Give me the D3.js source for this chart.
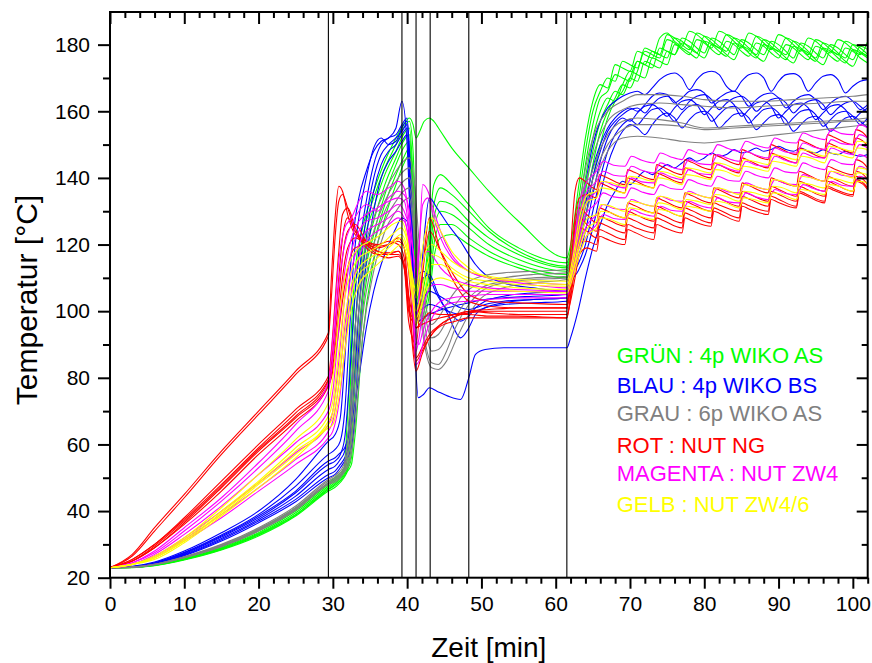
<!DOCTYPE html>
<html><head><meta charset="utf-8">
<script src="https://cdn.jsdelivr.net/npm/d3@7"></script>
<style>body{margin:0;background:#fff}svg{display:block}text{font-family:"Liberation Sans",Arial,sans-serif}</style>
</head><body><svg id="c" width="872" height="663"></svg>
<script>
// ---------- DATA ----------
const P1_T = [0,3,6,10,15,20,25,29.4];
const EVENTS = [29.4,39.3,41.2,43.1,48.3,61.5];
const X_TICKS = [0,10,20,30,40,50,60,70,80,90,100];
const Y_TICKS = [20,40,60,80,100,120,140,160,180];
const LEGEND_LABELS = ["GRÜN : 4p WIKO AS","BLAU : 4p WIKO BS","GRAU : 6p WIKO AS","ROT : NUT NG","MAGENTA : NUT ZW4","GELB : NUT ZW4/6"];
const LEGEND_COLORS = ["#00ff00","#0000ff","#808080","#ff0000","#ff00ff","#ffff00"];

// GREEN
const greenT = P1_T.concat([30.5,31.5,32,32.5,33,34,35.5,37,38.5,39.5,40.3,40.8,41.2,41.7,42.3,43,43.6,44.5,46,48.3,51,55,61.5],
  [62,63,64,65,66,67,68,69,70,71,72,73,74,75,76,77,78,79,80,81,82,83,84,85,86,87,88,89,90,91,92,93,94,95,96,97,98,99,100,101,102]);
const greenLines = [
 [23,23.2,24,26,29.5,34.5,41,48.5, 50.5,53,70,95,112,125,136,145,152,156,158,156,152,154,157,158,157,154,149,143,136,127,116,
  120,136,152,163,168,167,174,173,172,178, 177,176,182,183.5,181,179.5,184,183,181,179, 184,183,181,179,183.5,182.5,180.5,178.5,183,182, 180,178,182,181,179,177.5,181.5,180.5,178.5,177, 181],
 [23,23.2,24,26,29.3,34,40.5,48, 50,52.5,60,85,105,122,134,143,150,155,157,148,125,108,110,125,138,141,138,132,125,119,114.5,
  118,132,148,160,166,170,169,175,174,173, 179,178,177,183,182,180,178.5,183.5,182.5,180.5, 179,183,182,180,178,182.5,181.5,179.5,178,182, 181,179,177,181.5,180.5,178.5,177,181,180,178, 176.5],
 [23,23.1,23.8,25.7,29,33.5,40,47.5, 49.5,52,56,72,95,118,131,141,148,153,155,140,115,104,108,120,132,137,135,130,124,118,113.5,
  117,128,144,156,164,166,171,170,169,175, 174,178,177,176,182,181,179,177.5,182.5,181.5, 179.5,178,182,181,179,177,181.5,180.5,178.5,177, 181,180,178,176,180.5,179.5,177.5,176,180,179, 177],
 [23,23.1,23.8,25.6,28.8,33.2,39.5,47, 49,51.5,54,64,85,112,127,138,146,151,153,135,110,101,104,116,128,133,132,127,122,117,113,
  116,126,140,152,160,164,163,168,172,171, 170,176,175,174,180,179,177.5,176,181,180, 178,176.5,180.5,179.5,177.5,176,180,179,177,175.5, 179.5,178.5,176.5,175,179,178,176,174.5,178.5,177.5, 176],
 [23,23.1,23.7,25.5,28.6,33,39,46.5, 48.5,51,53,60,78,106,123,135,144,149,151,132,106,99,102,112,124,130,129,125,120,115.5,112,
  115,124,136,148,157,162,166,165,170,175, 174,173,179,178,177,182,181,179,177.5,182, 181,179,177,181.5,180.5,178.5,177,181,180,178, 176,180.5,179.5,177.5,176,180,179,177,175.5,179.5, 178.5],
 [23,23.1,23.7,25.5,28.5,32.8,38.8,46.5, 48,50.5,52.5,56,70,100,120,132,141,146,149,128,104,97,100,108,120,126,126,122,118,114,111,
  114,122,132,144,154,160,164,168,167,172, 178,177,176,181.5,180.5,178.5,177,181.5,180.5,178.5, 177,181,180,178,176.5,180.5,179.5,177.5,176,180, 179,177,175.5,179.5,178.5,176.5,175,179,178,176, 174.5],
 [23,23,23.6,25.3,28.3,32.5,38.5,46, 47.5,50,52,54,63,92,115,128,138,144,147,125,102,96,98,105,116,122,123,120,116.5,113,110,
  113,120,128,140,150,158,163,166,170,169, 175,174,173,178,177,180.5,179.5,177.5,176,180, 179,177,175.5,179.5,178.5,176.5,175,179,178,176, 174.5,178.5,177.5,175.5,174,178,177,175,173.5,177.5, 176.5]
];

// BLUE
const blueT = P1_T.concat([30.3,31,31.6,32.2,32.8,33.5,34.5,35.5,36.5,37.5,38.5,39.3,40,40.5,41,41.5,42.2,43,44,45.5,47.2,48.3,49.2,50.5,53,57,61.5],
  [62,63,64,65,66,67,68,69,70,71,72,73,74,75,76,77,78,79,80,81,82,83,84,85,86,87,88,89,90,91,92,93,94,95,96,97,98,99,100,101,102]);
const blueLines = [
 [23,23.4,24.7,28,33.5,40,49.5,61, 63,68,85,108,124,134,142,148,151,152,155,163,150,122,102,97,98,99,100,101,102,102.5,103,103.5,104,104.5,105,
  112,125,138,150,157,161,163,164.5,165.5,166, 165,167,169.5,171,171.5,170,166.5,169.5,171.5,172, 171,167.5,166,169,171,171.5,170,166,169,171, 171.3,170,166,168.5,170.5,171,169.5,165.5,167.5,169, 169.5],
 [23,23.3,24.5,27.6,32.8,39,47.5,57, 58.5,61,70,92,115,128,140,149,152,150,151,155,157,140,112,108,110,111,106,99,92,95,99,101,102.5,103.5,104,
  110,120,132,143,150,155,158,160,161,160, 162,164.5,165.5,165,162.5,164,166,166.5,165.5,162.5, 164,165.5,166,164.5,161.5,163.5,165,165.5,164,161, 163,164.5,165,163.5,160.5,162.5,164,164.5,163,160.5, 162],
 [23,23.3,24.3,27.2,32.2,38,45.5,54, 55,57,62,78,100,118,133,144,150,152,153,156,158,135,104,98,120,134,131,126,121,117,114,111,108.5,107,106,
  112,118,128,140,148,154,157,159,160.5,161, 159.5,162,164,164.5,163,160.5,163,164.5,165,163.5, 160.5,162.5,164,164.5,163,160,162,163.5,164,162.5, 159.5,161.5,163,163.5,162,159,161,162.5,163,161.5, 159.5],
 [23,23.2,24.2,27,31.8,37.5,44.5,52.5, 53.5,55.5,58,66,88,110,128,140,147,150,152,154,156,132,110,111,112,110,105,100,97,98.5,101,103,104.5,105.5,106,
  111,116,124,135,145,152,156,158,157,159.5, 161.5,162,160.5,158.5,161,163,163.5,162,159,161, 163,163.5,162,158.5,160.5,162.5,163,161.5,158,160, 162,162.5,161,157.5,159.5,161.5,162,160.5,157.5,159.5, 161],
 [23,23.2,24.1,26.8,31.4,37,43.5,51, 52,54,56,60,75,100,122,136,144,148,150,153,155,128,106,102,104,106,105,103,101,100.5,101,102,103,103.5,104,
  110,114,120,130,140,148,153,156,157.5,156, 158.5,160.5,161,159.5,157,159.5,161.5,162,160.5,157, 159,161,161.5,160,156.5,158.5,160.5,161,159.5,156, 158,160,160.5,159,155.5,157.5,159.5,160,158.5,156, 158],
 [23,23.2,24,26.6,31,36.5,42.8,50, 51,53,55,57,64,90,115,130,140,145,148,151,153,126,104,100,101,102,101.5,100,99,99.5,100,101,102,102.5,103,
  108,112,117,125,135,144,150,154,156,155, 153,156,158.5,159.5,158,155,157.5,159.5,160,158.5, 155,157,159,159.5,158,154.5,156.5,158.5,159,157.5, 154,156,158,158.5,157,154,156,158,158.5,157, 155],
 [23,23.3,24.4,27.4,32.5,38.5,46,55, 56,57.5,59,63,70,80,95,106,114,120,125,128,127,115,90,74,75,77,76,74.5,73.5,80,87,88.5,89,89,89,
  92,100,110,119,126,132,136,139,138,140, 142,141,142.5,144,143,144.5,146,145,146,147.5, 146.5,147,148.5,147.5,148,149,148,148.5,149.5,148.5, 148,149,148,147.5,148.5,147.5,147,148,147,146.5, 147]
];

// GRAY
const grayT = P1_T.concat([30.5,31.5,32.3,33,34,35.5,37,38.5,39.5,40.3,41,41.7,42.5,43.3,44.2,45.3,46.5,48.3,50,53,57,61.5],
  [62.3,63.2,64.2,65.5,67,69,71,74,77,80,84,88,92,96,100,102]);
const grayLines = [
 [23,23.2,24,26.3,30,35,41.5,49.5, 51,54,70,95,115,128,136,142,145,146,138,118,102,96,98,102,106,109,110.5,111.5,112,112.5,
  118,132,145,155,160,163,165,165,164.5,163.5,163,163,163.5,164,164.5,165],
 [23,23.2,24,26.2,29.8,34.7,41,49, 50.5,53,64,88,110,124,133,139,142,143,132,112,98,92,93,97,102,106.5,108.5,110,111,111.5,
  116,128,140,150,157,160.5,162,162.5,162,161.5,161,161.5,162,162.5,163,163],
 [23,23.2,24,26.1,29.6,34.4,40.7,48.5, 50,52.5,60,80,104,120,130,136,139,140,128,108,94,88,88.5,92,98,104,107,109,110,110.5,
  114,124,136,146,153,157,158,157.5,156.5,155,155.5,156,156.5,157,157.5,158],
 [23,23.1,23.9,26,29.4,34.2,40.4,48.2, 49.5,52,57,72,98,116,127,133,136,137,124,104,90,84.5,84,88,95,102,106,108.5,109.5,110,
  113,122,133,143,150,154.5,156,156,155.5,154.5,155,155.5,156,156.5,157,157],
 [23,23.1,23.9,26,29.3,34,40.2,48, 49,51.5,55,66,92,112,124,130,133,134,121,101,88,83,82.5,85,91,99,104,107,108.5,109.5,
  112,120,130,140,148,152,152.5,152,151,150.5,151.5,152.5,153.5,154.5,155.5,156]
];

// RED
const redT = P1_T.concat([29.8,30.3,30.8,31.3,32,33,34.5,36,37.5,38.8,39.6,40.2,40.7,41.2,42,43,44.5,46.5,48.3,51,55,61.5],
  [62,62.6,63.2,64.2, 65.5,65.9,66.8, 69.3,69.7,70.6, 73.2,73.6,74.5, 77,77.4,78.3, 80.9,81.3,82.2, 84.7,85.1,86, 88.6,89,89.9, 92.4,92.8,93.7, 96.2,96.6,97.5, 100,100.4,101.3, 102]);
const redLines = [
 [23,27,35,45,58,70,82,93.5, 110,128,137.5,136,129,123,121,120,121,120,116,104,90,82,87,92,96,98.5,99.5,100,100,100,
  118,136,140,138.5, 136.5,141,140.2, 138,142.5,141.7, 139.5,144,143.2, 141,145.5,144.7, 142.5,147,146.2, 144,148.5,147.7, 145.5,150,149.2, 147,151.5,150.7, 148.5,153,152.2, 150,154.5,153.7, 152],
 [23,26.5,34,44,57,69,81,92.5, 104,122,133,135,131,124,121,119.5,120,121,119,112,98,86,89,93,96,98.5,100,100.5,101,101,
  112,128,134,135, 134,138.5,137.7, 135.5,140,139.2, 137,141.5,140.7, 138.5,143,142.2, 140,144.5,143.7, 141.5,146,145.2, 143,147.5,146.7, 144.5,149,148.2, 146,150.5,149.7, 147.5,152,151.2, 149.5],
 [23,25.5,30,38,49,60,70.5,80.5, 88,103,118,129,131,125,120,118,117.5,118,114,100,97,96,110,124,118,110,105,103,102.5,102,
  110,125,131,129, 126.5,131,130.2, 128,132.5,131.7, 129.5,134,133.2, 131,135.5,134.7, 132.5,137,136.2, 134,138.5,137.7, 135.5,140,139.2, 137.5,142,141.2, 139,143.5,142.7, 141,145.5,144.7, 143],
 [23,25.5,30,37.5,48,59,69.5,79.5, 84,96,110,122,128,124,119,117,117,118,113,97,92,90,110,128,118,108,103,101.5,101,101,
  107,120,128,126, 124,128.5,127.7, 125.5,130,129.2, 127,131.5,130.7, 128.5,133,132.2, 130,134.5,133.7, 131.5,136,135.2, 133,137.5,136.7, 134.5,139,138.2, 136,140.5,139.7, 137.5,142,141.2, 139.5],
 [23,25,29.5,37,47.5,58.5,68.5,79, 82,92,104,116,124,126,121,118,117,117,114,101,98,95,97,99.5,99,99,99,98.5,98.5,98,
  105,116,125,124, 122,126.5,125.7, 123.5,128,127.2, 125,129.5,128.7, 126.5,131,130.2, 128,132.5,131.7, 130,134.5,133.7, 131.5,136,135.2, 133,137.5,136.7, 134.5,139,138.2, 136,140.5,139.7, 138],
 [23,25,29,36.5,47,58,68,78, 81,89,99,110,119,122,120,117,116,116.5,113,104,92,85,88,92,95.5,97,98,98,98,98,
  104,113,121,121, 120,124.5,123.7, 121.5,126,125.2, 123.5,128,127.2, 125,129.5,128.7, 126.5,131,130.2, 128,132.5,131.7, 130,134.5,133.7, 131.5,136,135.2, 133,137.5,136.7, 135,139.5,138.7, 137],
 [23,25,29,36,46,57,67,77.5, 80,86,94,103,113,119,120,119,120,122,119,105,99,95,96,97,98,99,100,99.5,99,99,
  103,110,117,119, 118,122.5,121.7, 120,124.5,123.7, 121.5,126,125.2, 123.5,128,127.2, 125.5,130,129.2, 127,131.5,130.7, 129,133.5,132.7, 131,135.5,134.7, 132.5,137,136.2, 134.5,139,138.2, 136.5]
];

// MAGENTA
const magT = P1_T.concat([30,30.8,31.6,32.5,33.5,34.5,36,37.5,38.8,39.6,40.3,40.8,41.2,41.6,42.1,42.8,43.6,44.5,46,48.3,51,55,61.5],
  [62.2,63,64, 65.5,66.4,67.8, 69.3,70.2,71.6, 73.2,74.1,75.5, 77,77.9,79.3, 80.9,81.8,83.2, 84.7,85.6,87, 88.6,89.5,90.9, 92.4,93.3,94.7, 96.2,97.1,98.5, 100,100.9,102]);
const magLines = [
 [23,24.5,28,35,44,54.5,66,78.5, 92,115,125,128,133,136,135,137,139,137,125,100,84,85,90,95,99,101,102.5,103,103.5,104,104,
  115,130,138, 142,145,143.8, 143.5,146.5,145.3, 144.5,147.5,146.3, 145.5,148.5,147.3, 147,150,148.8, 148,151,149.8, 149,152,150.8, 150.5,153.5,152.3, 151.5,154.5,153.3, 153,156,155],
 [23,24.5,27.5,34,43,53,64,76, 86,108,120,126,130,132,130,134,136,135,130,118,108,118,138,136,130,124,117,112,110,108.5,107,
  114,127,135, 139,142,140.8, 140.5,143.5,142.3, 141.5,144.5,143.3, 142.5,145.5,144.3, 144,147,145.8, 145,148,146.8, 146,149,147.8, 147.5,150.5,149.3, 148.5,151.5,150.3, 150,153,152],
 [23,24,27,33,41.5,51,60.5,70, 76,95,112,122,127,129,131,133,134,133,122,105,92,90,94,98,101,103,104,104.5,105,105,105,
  112,124,132, 136,139,137.8, 137,140,138.8, 138.5,141.5,140.3, 139.5,142.5,141.3, 141,144,142.8, 142,145,143.8, 143.5,146.5,145.3, 144.5,147.5,146.3, 146,149,147.8, 147,150,149],
 [23,24,26.5,32,40,48.5,57.5,66, 70,85,104,118,124,127,128,130,132,130,125,118,113,120,132,134,128,122,116,112,110,109,108,
  112,121,129, 132.5,135.5,134.3, 134,137,135.8, 135,138,136.8, 136.5,139.5,138.3, 137.5,140.5,139.3, 139,142,140.8, 140,143,141.8, 141.5,144.5,143.3, 142.5,145.5,144.3, 144,147,146],
 [23,24,26.5,31.5,39,47,55.5,64, 67,78,95,112,120,124,126,128,130,128,118,100,88,92,100,106,108,108,107,106,106,106,106,
  110,118,125, 129,132,130.8, 130.5,133.5,132.3, 131.5,134.5,133.3, 133,136,134.8, 134,137,135.8, 135.5,138.5,137.3, 136.5,139.5,138.3, 138,141,139.8, 139,142,140.8, 140.5,143.5,142.5],
 [23,24,26,31,38,46,54,62, 64,72,88,106,116,121,124,126,128,127,120,108,98,104,115,118,116,113,110,108,107,106.5,106,
  110,116,122, 126,129,127.8, 127.5,130.5,129.3, 128.5,131.5,130.3, 130,133,131.8, 131,134,132.8, 132.5,135.5,134.3, 133.5,136.5,135.3, 135,138,136.8, 136,139,137.8, 137.5,140.5,139.5]
];

// YELLOW
const yelT = P1_T.concat([30,30.8,31.6,32.5,33.5,35,36.5,38,39.2,40,40.6,41.2,41.8,42.5,43.3,44.5,46,48.3,51,55,61.5],
  [62.3,63.2,64.3, 65.5,66.1,67.3, 69.3,69.9,71.1, 73.2,73.8,75, 77,77.6,78.8, 80.9,81.5,82.7, 84.7,85.3,86.5, 88.6,89.2,90.4, 92.4,93,94.2, 96.2,96.8,98, 100,100.6,101.8, 102]);
const yelLines = [
 [23,24,26.5,32,41,51,61.5,72.5, 80,98,110,116,119,121,123,126,127,122,112,104,110,118,120,118,115,112,110.5,109.5,109,
  116,128,135, 136,139,138.6, 137.5,140.5,140.1, 139,142,141.6, 140,143,142.6, 141.5,144.5,144.1, 142.5,145.5,145.1, 144,147,146.6, 145.5,148.5,148.1, 146.5,149.5,149.1, 148,151,150.6, 150],
 [23,24,26,31.5,40,49,59,68.5, 73,88,104,112,116,118,120,123,125,121,110,100,104,112,117,116,113,110,109,108,107.5,
  114,125,133, 134,137,136.6, 135.5,138.5,138.1, 137,140,139.6, 138,141,140.6, 139.5,142.5,142.1, 140.5,143.5,143.1, 142,145,144.6, 143.5,146.5,146.1, 144.5,147.5,147.1, 146,149,148.6, 148],
 [23,24,26,31,39.5,48.5,58,67, 70,82,98,108,113,116,118,121,123,119,108,96,100,108,114,114,112,109,108,107,106.5,
  112,121,128, 129,132,131.6, 130,133,132.6, 131.5,134.5,134.1, 132.5,135.5,135.1, 134,137,136.6, 135,138,137.6, 136.5,139.5,139.1, 137.5,140.5,140.1, 139,142,141.6, 140,143,142.6, 142],
 [23,24,26,31,39,48,57,66, 68,78,93,105,111,114,117,120,122,118,112,106,115,124,128,124,118,113,110,109,108,
  112,119,125, 127,130,129.6, 128,131,130.6, 129.5,132.5,132.1, 130.5,133.5,133.1, 132,135,134.6, 133,136,135.6, 134.5,137.5,137.1, 135.5,138.5,138.1, 137,140,139.6, 138.5,141.5,141.1, 140.5],
 [23,24,25.5,30.5,38.5,47,56,65, 66,74,88,101,108,112,115,118,120,116,106,98,101,106,109,110,109,107.5,106.5,106,105.5,
  110,117,123, 125,128,127.6, 126,129,128.6, 127.5,130.5,130.1, 128.5,131.5,131.1, 130,133,132.6, 131,134,133.6, 132.5,135.5,135.1, 133.5,136.5,136.1, 135,138,137.6, 136,139,138.6, 138]
];

// ---------- CHART ----------
const L = 110, R = 867.7, TOP = 12, BOT = 577.7;
const svg = d3.select("#c");
const x = d3.scaleLinear().domain([0,102]).range([L,R]);
const y = d3.scaleLinear().domain([20,189.8]).range([BOT,TOP]);

svg.append("clipPath").attr("id","clip").append("rect")
  .attr("x",L).attr("y",TOP).attr("width",R-L).attr("height",BOT-TOP);
const plot = svg.append("g").attr("clip-path","url(#clip)");

const groups = [
  {T: greenT, lines: greenLines, color: LEGEND_COLORS[0]},
  {T: blueT, lines: blueLines, color: LEGEND_COLORS[1]},
  {T: grayT, lines: grayLines, color: LEGEND_COLORS[2]},
  {T: redT, lines: redLines, color: LEGEND_COLORS[3]},
  {T: magT, lines: magLines, color: LEGEND_COLORS[4]},
  {T: yelT, lines: yelLines, color: LEGEND_COLORS[5]}
];
groups.forEach(g => {
  const gen = d3.line().x((d,i) => x(g.T[i])).y(d => y(d)).curve(d3.curveMonotoneX)
    .defined((d,i) => i < g.T.length);
  g.lines.forEach(v => {
    plot.append("path").attr("d", gen(v)).attr("fill","none")
      .attr("stroke", g.color).attr("stroke-width", 1.1);
  });
});

// event lines
plot.selectAll("line.ev").data(EVENTS).enter().append("line")
  .attr("x1", d => x(d)).attr("x2", d => x(d)).attr("y1", TOP).attr("y2", BOT)
  .attr("stroke","#000").attr("stroke-width",1.1);

// axes
const xMinor = d3.range(0,103,2).filter(v => v % 10 !== 0);
const yMinor = d3.range(30,190,20);
function styleAxis(g){ g.select(".domain").remove(); g.selectAll(".tick line").attr("stroke","#000").attr("stroke-width",2); }

svg.append("g").attr("transform",`translate(0,${BOT})`)
  .call(d3.axisBottom(x).tickValues(X_TICKS).tickSize(11).tickPadding(7).tickFormat(d3.format("d")))
  .call(styleAxis).selectAll("text").attr("font-size",21).attr("fill","#000").attr("font-family","Liberation Sans, Arial");
svg.append("g").attr("transform",`translate(0,${BOT})`)
  .call(d3.axisBottom(x).tickValues(xMinor).tickSize(6).tickFormat("")).call(styleAxis);
svg.append("g").attr("transform",`translate(0,${TOP})`)
  .call(d3.axisBottom(x).tickValues(X_TICKS).tickSize(12).tickFormat("")).call(styleAxis);
svg.append("g").attr("transform",`translate(0,${TOP})`)
  .call(d3.axisBottom(x).tickValues(xMinor).tickSize(6).tickFormat("")).call(styleAxis);

svg.append("g").attr("transform",`translate(${L},0)`)
  .call(d3.axisLeft(y).tickValues(Y_TICKS).tickSize(12).tickPadding(8).tickFormat(d3.format("d")))
  .call(styleAxis).selectAll("text").attr("font-size",21).attr("fill","#000").attr("font-family","Liberation Sans, Arial");
svg.append("g").attr("transform",`translate(${L},0)`)
  .call(d3.axisLeft(y).tickValues(yMinor).tickSize(7).tickFormat("")).call(styleAxis);
svg.append("g").attr("transform",`translate(${R},0)`)
  .call(d3.axisLeft(y).tickValues(Y_TICKS).tickSize(11).tickFormat("")).call(styleAxis);
svg.append("g").attr("transform",`translate(${R},0)`)
  .call(d3.axisLeft(y).tickValues(yMinor).tickSize(6).tickFormat("")).call(styleAxis);

svg.append("rect").attr("x",L).attr("y",TOP).attr("width",R-L).attr("height",BOT-TOP)
  .attr("fill","none").attr("stroke","#000").attr("stroke-width",2);

// titles
svg.append("text").attr("x",(L+R)/2).attr("y",657).attr("text-anchor","middle")
  .attr("font-size",28).attr("fill","#000").text("Zeit [min]");
svg.append("text").attr("transform","translate(37,300) rotate(-90)").attr("text-anchor","middle")
  .attr("font-size",30).attr("fill","#000").text("Temperatur [°C]");

// legend
const LEG_Y = [362.7,393,420.7,452.7,480.7,511.7];
svg.selectAll("text.leg").data(LEGEND_LABELS).enter().append("text")
  .attr("x",616.7).attr("y",(d,i)=>LEG_Y[i]).attr("font-size",22)
  .attr("fill",(d,i)=>LEGEND_COLORS[i]).text(d=>d);
</script></body></html>
